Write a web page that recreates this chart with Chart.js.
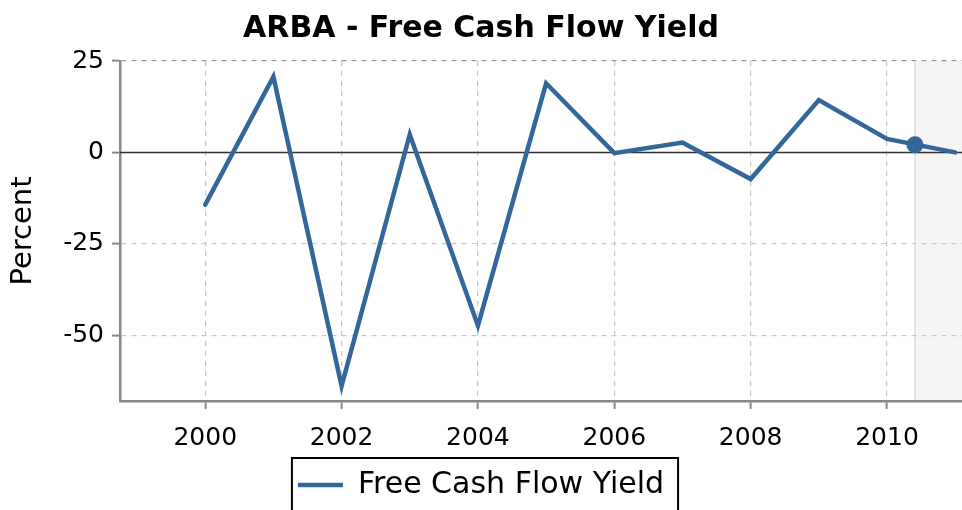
<!DOCTYPE html>
<html>
<head>
<meta charset="utf-8">
<script src="https://cdn.jsdelivr.net/npm/chart.js@4/dist/chart.umd.min.js"></script>
<style>
  html, body { margin: 0; padding: 0; background: #fff; }
  #wrap { width: 962px; height: 510px; }
</style>
</head>
<body>
<div id="wrap"><canvas id="fcfChart"></canvas></div>
<script>
// data
const years = [2000, 2001, 2002, 2003, 2004, 2005, 2006, 2007, 2008, 2009, 2010, 2011];
const fcfYield = [-14.3, 20.7, -63.9, 4.9, -47.4, 18.9, -0.2, 2.7, -7.3, 14.3, 3.7, 0.0];
const markerX = [2010.41];
const markerY = [2.1];
const xTicks = [2000, 2002, 2004, 2006, 2008, 2010];
const yTicks = [25, 0, -25, -50];

const lineColor = '#336699';
const font = "'DejaVu Sans', sans-serif";

// shaded "current" region + zero line + legend frame
const extras = {
  id: 'extras',
  beforeDraw(chart) {
    const { ctx, chartArea, scales } = chart;
    const x0 = scales.x.getPixelForValue(markerX[0]);
    ctx.save();
    ctx.fillStyle = '#f5f5f5';
    ctx.fillRect(x0, chartArea.top, chartArea.right - x0, chartArea.bottom - chartArea.top);
    ctx.strokeStyle = '#dddddd';
    ctx.lineWidth = 1.5;
    ctx.beginPath();
    ctx.moveTo(x0, chartArea.top);
    ctx.lineTo(x0, chartArea.bottom);
    ctx.stroke();
    ctx.restore();
  },
  beforeDatasetsDraw(chart) {
    const { ctx, chartArea, scales } = chart;
    const y0 = scales.y.getPixelForValue(0);
    ctx.save();
    ctx.strokeStyle = '#333333';
    ctx.lineWidth = 1.5;
    ctx.beginPath();
    ctx.moveTo(chartArea.left, y0);
    ctx.lineTo(chartArea.right, y0);
    ctx.stroke();
    ctx.restore();
  },
  afterDraw(chart) {
    const hb = chart.legend && chart.legend.legendHitBoxes && chart.legend.legendHitBoxes[0];
    if (!hb) return;
    const ctx = chart.ctx;
    const cy = hb.top + hb.height / 2;
    ctx.save();
    ctx.strokeStyle = '#000';
    ctx.lineWidth = 2;
    ctx.strokeRect(hb.left - 6, cy - 27, hb.width + 20, 60);
    ctx.restore();
  }
};

new Chart(document.getElementById('fcfChart'), {
  type: 'line',
  data: {
    datasets: [{
      label: 'Free Cash Flow Yield',
      data: years.map((y, i) => ({ x: y, y: fcfYield[i] })),
      borderColor: lineColor,
      backgroundColor: lineColor,
      borderWidth: 4.5,
      borderCapStyle: 'round',
      borderJoinStyle: 'miter',
      pointRadius: 0,
      tension: 0
    }, {
      label: 'marker',
      data: markerX.map((x, i) => ({ x: x, y: markerY[i] })),
      borderColor: lineColor,
      backgroundColor: lineColor,
      pointRadius: 8.5,
      pointBorderWidth: 0,
      showLine: false
    }]
  },
  options: {
    responsive: true,
    maintainAspectRatio: false,
    animation: false,
    layout: { padding: 0, autoPadding: false },
    plugins: {
      title: {
        display: true,
        text: 'ARBA - Free Cash Flow Yield',
        color: '#000',
        font: { family: font, size: 30, weight: 'bold' },
        padding: { top: 11, bottom: 14 }
      },
      legend: {
        position: 'bottom',
        labels: {
          filter: item => item.datasetIndex === 0,
          color: '#000',
          font: { family: font, size: 30 },
          usePointStyle: true,
          pointStyle: 'line',
          pointStyleWidth: 45,
          padding: 10
        }
      },
      tooltip: { enabled: false }
    },
    scales: {
      x: {
        type: 'linear',
        min: 1998.75,
        max: 2011.1,
        afterBuildTicks: s => { s.ticks = xTicks.map(v => ({ value: v })); },
        afterFit: s => { s.height = 59; s.paddingRight = 0; s.paddingLeft = 0; },
        ticks: {
          color: '#000',
          font: { family: font, size: 25 },
          padding: 14,
          maxRotation: 0,
          callback: v => String(v)
        },
        grid: {
          color: '#c8c8c8',
          lineWidth: 1.2,
          tickColor: '#888',
          tickWidth: 2,
          tickLength: 8,
          tickBorderDash: []
        },
        border: { color: '#888', width: 2.5, dash: [5, 5] }
      },
      y: {
        min: -68,
        max: 25,
        afterBuildTicks: s => { s.ticks = yTicks.map(v => ({ value: v })); },
        afterFit: s => { s.width = 120; },
        title: {
          display: true,
          text: 'Percent',
          color: '#000',
          font: { family: font, size: 29 },
          padding: { top: 6, bottom: 0 }
        },
        ticks: {
          color: '#000',
          font: { family: font, size: 25 },
          padding: 8
        },
        grid: {
          color: ctx => ctx.tick && ctx.tick.value === 25 ? '#999' : '#c8c8c8',
          lineWidth: 1.2,
          tickColor: '#888',
          tickWidth: 2,
          tickLength: 8,
          tickBorderDash: []
        },
        border: { color: '#888', width: 2.5, dash: [5, 5] }
      }
    }
  },
  plugins: [extras]
});
</script>
</body>
</html>
